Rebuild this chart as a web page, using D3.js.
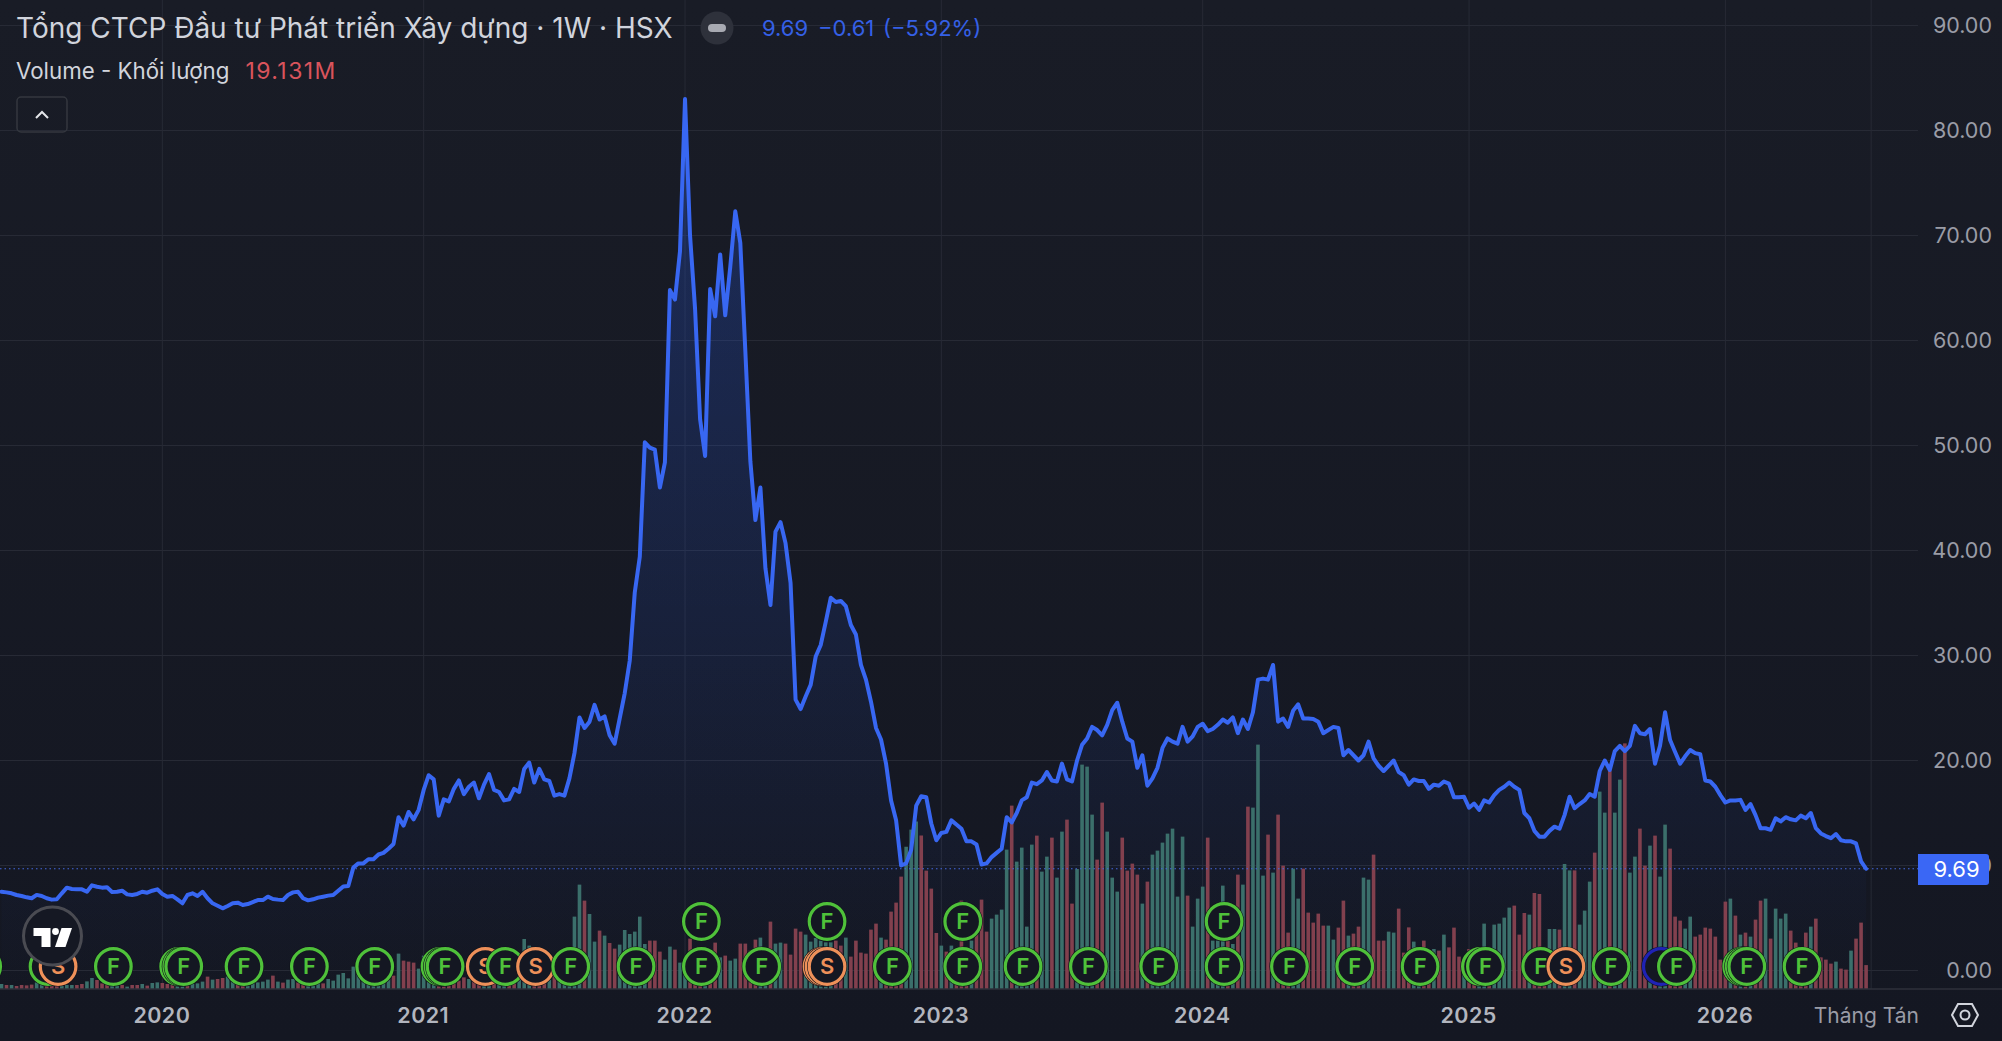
<html>
<head>
<meta charset="utf-8">
<script src="https://d3js.org/d3.v7.min.js"></script>
<style>
html,body{margin:0;padding:0;background:#151823;overflow:hidden;}
svg{display:block;font-family:Inter,"Noto Sans",sans-serif;}
</style>
</head>
<body></body>
<script>
const width = 2002;
const height = 1041;

// weekly closes, 10 per row
const closes = [
  7.5,7.44,7.35,7.19,7.1,6.97,6.88,7.2,7.1,6.88,
  6.75,6.78,7.35,7.89,7.76,7.73,7.73,7.5,8.11,7.98,
  7.89,7.92,7.48,7.5,7.6,7.25,7.19,7.29,7.5,7.41,
  7.6,7.73,7.29,7.03,7.1,6.78,6.4,7.19,7.35,7.1,
  7.5,6.88,6.4,6.17,5.92,6.14,6.4,6.46,6.24,6.33,
  6.52,6.71,6.71,7.03,6.81,6.75,6.71,7.19,7.44,7.5,
  6.88,6.68,6.78,6.94,7.03,7.13,7.19,7.6,8,8.05,
  9.8,10.2,10.2,10.6,10.6,11.05,11.2,11.6,12.05,14.6,
  13.8,15.1,14.4,15.3,17.2,18.6,18.2,14.75,16.3,16.1,
  17.3,18.1,16.8,17.5,17.9,16.4,17.7,18.7,17.2,17,
  16.2,16.3,17.3,17,19.2,19.8,17.9,19.2,18.2,18.05,
  16.65,16.8,16.65,18.3,20.7,24.1,23.1,23.7,25.3,23.9,
  24.2,22.4,21.6,24,26.4,29.5,36,39.4,50.3,49.8,
  49.6,46,48.4,64.8,63.9,68.5,83,70,63,52.5,
  49,64.9,62.3,68.2,62.4,67,72.3,69.3,59,48.5,
  42.9,46,38.3,34.8,41.8,42.7,40.7,36.9,25.8,24.9,
  26.1,27.2,29.9,31,33.2,35.5,35.1,35.2,34.7,32.9,
  32,29.1,27.7,25.6,23.1,22,19.7,16.2,14.3,10,
  10.2,11.5,15.7,16.6,16.5,14,12.4,13.1,13.2,14.3,
  13.9,13.5,12.3,12.3,12,10.1,10.2,10.8,11.2,11.6,
  14.6,14.1,15,16.2,16.5,17.9,17.75,18.1,18.9,18.1,
  18,19.7,18.2,18,20,21.5,22.1,23.2,22.9,22.4,
  23.4,24.8,25.5,23.7,22.1,21.8,19.3,20.5,17.6,18.3,
  19.3,21.2,22.1,21.8,21.6,23.2,21.8,22.3,23.2,23.5,
  22.8,23,23.4,23.9,23.6,24.1,22.6,23.9,23,24.6,
  27.7,27.8,27.7,29.1,23.7,24,23.2,24.75,25.35,24,
  24,23.95,23.7,22.6,22.9,23.2,23.1,20.5,21,20.5,
  20,20.5,21.8,20.2,19.5,19,19.5,20,18.9,18.6,
  17.7,18.2,18.05,18.05,17.3,17.7,17.6,18,17.8,16.5,
  16.5,16.55,15.5,15.9,15.3,16.2,16,16.7,17.2,17.5,
  17.9,17.5,17.2,15,14.5,13.3,12.75,12.75,13.3,13.7,
  13.5,14.8,16.55,15.45,15.85,16.2,16.8,16.55,19,20,
  19.1,20.9,21.4,20.9,21.4,23.3,22.6,22.5,23,19.7,
  21.4,24.6,21.95,20.8,19.7,20.4,21,20.7,20.6,18.1,
  18,17.5,16.7,16,16.2,16.2,16.25,15.3,15.85,14.8,
  13.55,13.55,13.4,14.5,14.2,14.6,14.4,14.3,14.75,14.5,
  15,13.55,13.05,12.8,12.6,13,12.4,12.3,12.3,12.1,
  10.4,9.69
];

// weekly volume in millions
const volumes = [
  4,3.2,3.2,2.4,3.2,2.9,3.5,5.3,5.3,2.7,
  2.7,2.7,2.4,3.2,3.2,3.2,4,6.1,8.8,7.2,
  4.5,4,3.2,2.7,3.2,1.9,3.2,3.2,4,2.7,
  4.8,5.3,4.8,4,3.2,4,4.5,4,4,4.5,
  5.9,9.9,7.5,8,8.8,9.9,8,4.5,4,4.5,
  5.3,5.3,5.9,7.5,10.7,5.9,5.1,7.5,8,5.3,
  4,4.5,5.3,6.1,4.5,8,6.7,11.5,12.8,8.5,
  17.9,21,12,9.3,12,14.7,13,18.7,10.7,28.3,
  22.7,21.9,21.1,16.3,26.7,25.3,20,12,13.3,11.5,
  8,6.7,9.3,8,9.9,9.3,10.7,9.3,10.7,12,
  10.7,9.3,8,20,40,34.7,22.7,20,18,22,
  20,26,24,20,57.9,83.5,70.7,60,37.9,46.7,
  42.7,36.8,32.3,35.5,47.2,44,45.9,57.9,36,38.7,
  38.7,29.9,23.5,33.9,31.5,21.1,17.3,40.3,30.7,25.3,
  25.3,30.7,37.1,25.3,26.7,22.7,24.3,36.3,36.3,30.7,
  39.5,41.1,30.7,53.9,36.3,37.1,36.3,27.5,48.3,45.9,
  43.5,37.9,40.8,38.7,37.3,37.3,38.7,34.7,41.1,25.9,
  38.7,29.1,28.3,47.5,52.3,41.1,39.5,61.9,69.1,89.9,
  113.8,127.5,134,122.8,94.7,80.3,44.8,34.7,29.9,34.7,
  28,70.7,33.3,38.7,44,71.5,45.9,56.3,59.5,63.5,
  111.5,146.7,101.9,113.1,49.9,115.5,122.7,93.9,105.9,121.1,
  89.1,125.9,135.5,68.3,96,179.5,177.9,139.5,103.5,149.1,
  125.9,89.1,77.9,121.1,94.7,100.3,91.5,68.3,85.9,107.5,
  110.7,117.1,124.3,128.3,73.9,121.9,74.7,49.9,72.3,81.9,
  121.1,38.7,38.7,82.7,38.7,36,91.5,83.5,145.9,145.1,
  195.5,90.7,123.5,93.1,139.5,98.7,45.1,96.3,72.3,96.3,
  61.1,53.1,60.3,50.7,50.7,39.5,49.1,70.7,42.7,44.3,
  49.9,89.1,87.5,107.5,38.7,38.7,45.9,45.1,64.3,29.1,
  49.3,37.9,28,38.7,28,32,30.7,43.5,33.3,49.1,
  25.9,17.3,32,30.7,28,52.3,22.7,51.5,52.3,57.1,
  65.1,66.7,43.5,60.8,59.5,76.8,76,33.3,48,48,
  47.5,100,94.9,94.9,51.5,62.7,85.9,109.1,157.9,141.1,
  174.7,141.1,167.5,196.5,93.1,105.9,128.3,98.7,114.7,122.7,
  89.9,131.5,112.3,57.9,54.7,48.3,57.9,41.9,43.5,49.1,
  48.3,41.9,23.5,69.9,72.3,58.7,43.5,45.1,41.9,55.5,
  70.7,72.3,40.3,64.3,56.3,60.3,46.7,37.1,28,45.1,
  49.9,56.3,25.3,23.5,20.3,21.9,16.3,15.5,30.7,40.3,
  53.1,19.131
];

// 1 = up week, 0 = down week
const volumeUp = [
  1,0,1,0,0,0,0,1,1,0,
  0,0,1,1,1,0,0,1,1,0,
  0,0,1,1,0,1,0,0,1,0,
  1,1,0,0,0,1,1,0,1,1,
  1,0,1,0,0,1,1,0,0,1,
  1,1,1,1,0,1,0,1,1,0,
  0,1,1,1,0,1,1,1,1,1,
  1,1,1,1,1,1,1,1,0,1,
  0,0,0,1,1,1,1,0,0,0,
  0,0,0,1,0,0,1,1,0,1,
  1,0,0,1,1,1,0,0,0,1,
  0,1,1,1,1,1,0,1,1,0,
  1,0,0,1,1,1,1,1,1,0,
  0,0,1,1,0,1,1,0,0,0,
  1,0,0,1,0,1,1,0,0,0,
  0,1,1,0,1,1,0,0,0,0,
  1,1,1,1,1,1,0,0,1,0,
  0,0,0,0,0,1,0,0,0,0,
  1,1,1,0,0,0,0,1,0,1,
  0,0,0,1,0,0,0,1,1,1,
  1,0,1,1,1,1,0,1,1,0,
  1,1,0,0,1,1,1,1,0,0,
  1,1,1,0,0,0,0,1,0,1,
  1,1,1,1,1,1,0,1,1,1,
  0,1,1,1,0,1,0,1,0,1,
  1,1,0,1,0,0,0,1,1,0,
  0,0,0,0,1,1,0,0,1,0,
  0,1,1,0,0,0,1,1,0,0,
  0,1,1,0,0,1,0,1,0,0,
  0,1,0,0,1,1,0,1,1,1,
  1,0,0,0,1,0,0,0,1,1,
  0,1,1,0,1,1,1,0,1,1,
  0,1,1,0,1,1,0,0,1,0,
  1,1,0,0,0,1,1,0,0,0,
  0,0,0,0,1,0,1,0,1,0,
  0,1,0,1,1,1,0,0,0,0,
  1,0,0,0,0,1,0,0,1,0,
  0,0
];

const priceTicks = [0,10,20,30,40,50,60,70,80,90];
const yearLabels = ['2020','2021','2022','2023','2024','2025','2026'];
const yearWeeks = [32,84,136,187,239,292,343];
const lastGridWeek = 372;

// earnings / split / dividend flags: week, row
const eventWeeks = [-4,9,11,22,35,35.6,36,48,61,74,87,87.6,88,96,100,106,113,126,139,139,151,163,163.4,164,164,177,191,191,203,216,230,243,243,256,269,282,294,295,306,311,320,330,333,346,346.5,347,358];
const eventTypes = ['F','F','S','F','F','F','F','F','F','F','F','F','F','S','F','S','F','F','F','F','F','S','S','S','F','F','F','F','F','F','F','F','F','F','F','F','F','F','F','S','F','D','F','F','F','F','F'];
const eventRows = [0,0,0,0,0,0,0,0,0,0,0,0,0,0,0,0,0,0,0,1,0,0,0,0,1,0,0,1,0,0,0,0,1,0,0,0,0,0,0,0,0,0,0,0,0,0,0];

const plotRight = 1918;
const baseY = 989;

const x = d3.scaleLinear().domain([0, closes.length-1]).range([1.5, 1866.1]);
const y = d3.scaleLinear().domain([0,90]).range([970.5,25.5]);
const yVol = d3.scaleLinear().domain([0,200]).range([baseY,baseY-250]);

const svg = d3.select('body').append('svg')
    .attr('width',width)
    .attr('height',height);

const defs = svg.append('defs');
const bg = defs.append('linearGradient').attr('id','bg')
    .attr('x1',0).attr('y1',0).attr('x2',0).attr('y2',1);
bg.append('stop').attr('offset','0%').attr('stop-color','#191c26');
bg.append('stop').attr('offset','100%').attr('stop-color','#141722');

const fillGrad = defs.append('linearGradient').attr('id','fillGrad')
    .attr('gradientUnits','userSpaceOnUse')
    .attr('x1',0).attr('y1',y(83)).attr('x2',0).attr('y2',baseY);
fillGrad.append('stop').attr('offset','0%').attr('stop-color','#2962ff').attr('stop-opacity',0.26);
fillGrad.append('stop').attr('offset','100%').attr('stop-color','#2962ff').attr('stop-opacity',0);

svg.append('rect').attr('width',width).attr('height',height).attr('fill','url(#bg)');

// grid
svg.append('g').selectAll('line')
    .data(priceTicks)
    .enter()
  .append('line')
    .attr('x1',0).attr('x2',plotRight)
    .attr('y1',d=>y(d)).attr('y2',d=>y(d))
    .attr('stroke','#272a35').attr('stroke-width',1);

svg.append('g').selectAll('line')
    .data(yearWeeks.concat([lastGridWeek]))
    .enter()
  .append('line')
    .attr('x1',d=>x(d)).attr('x2',d=>x(d))
    .attr('y1',0).attr('y2',baseY)
    .attr('stroke','#272a35').attr('stroke-width',1);

// area under the line
const area = d3.area()
    .x((d,i)=>x(i))
    .y0(baseY)
    .y1(d=>y(d));
svg.append('path').datum(closes).attr('d',area).attr('fill','url(#fillGrad)');

// volume
svg.append('g').selectAll('rect')
    .data(volumes)
    .enter()
  .append('rect')
    .attr('x',(d,i)=>x(i)-1.8)
    .attr('y',d=>yVol(d))
    .attr('width',3.6)
    .attr('height',d=>baseY-yVol(d))
    .attr('fill',(d,i)=>volumeUp[i] ? '#3b6f6b' : '#82404e');

// last price line
const lastPrice = closes[closes.length-1];
svg.append('line')
    .attr('x1',0).attr('x2',plotRight)
    .attr('y1',y(lastPrice)).attr('y2',y(lastPrice))
    .attr('stroke','#4468e0').attr('stroke-width',1.2)
    .attr('stroke-dasharray','1.5 3');

// price line
const line = d3.line()
    .x((d,i)=>x(i))
    .y(d=>y(d));
svg.append('path').datum(closes)
    .attr('d',line)
    .attr('fill','none')
    .attr('stroke','#3867f2')
    .attr('stroke-width',4)
    .attr('stroke-linejoin','round')
    .attr('stroke-linecap','round');

// event flags
const flagColor = {F:'#4fc13a',S:'#ee9059',D:'#1f22b5'};
const rowY = [966.5,921.5];
const events = eventWeeks.map((w,i)=>({week:w,type:eventTypes[i],row:eventRows[i]}));
const flags = svg.append('g').selectAll('g')
    .data(events)
    .enter()
  .append('g')
    .attr('transform',d=>`translate(${x(d.week)+1.3},${rowY[d.row]})`);
flags.append('circle')
    .attr('r',20)
    .attr('fill','#10131b');
flags.append('circle')
    .attr('r',17.8)
    .attr('fill','#141722')
    .attr('stroke',d=>flagColor[d.type])
    .attr('stroke-width',3.2);
flags.append('text')
    .attr('text-anchor','middle')
    .attr('dy','0.36em')
    .attr('font-size',22)
    .attr('font-weight',600)
    .attr('fill',d=>flagColor[d.type])
    .text(d=>d.type==='D' ? '' : d.type);

// price axis
const yAxis = d3.axisRight(y).tickValues(priceTicks).tickSize(0).tickPadding(0)
    .tickFormat(d3.format('.2f'));
const yG = svg.append('g').attr('transform','translate(1992,0)').call(yAxis);
yG.select('.domain').remove();
yG.selectAll('text')
    .attr('text-anchor','end')
    .attr('font-size',21.5)
    .attr('font-family','Inter')
    .attr('fill','#9a9ca6');

// time axis
svg.append('line')
    .attr('x1',0).attr('x2',width)
    .attr('y1',baseY).attr('y2',baseY)
    .attr('stroke','#2e313b').attr('stroke-width',1.5);

const xAxis = d3.axisBottom(x).tickValues(yearWeeks).tickSize(0).tickPadding(0)
    .tickFormat((d,i)=>yearLabels[i]);
const xG = svg.append('g').attr('transform',`translate(-1,${baseY})`).call(xAxis);
xG.select('.domain').remove();
xG.selectAll('text')
    .attr('y',26.5)
    .attr('dy','0.36em')
    .attr('font-size',21.5)
    .attr('font-weight',600)
    .attr('letter-spacing',0.4)
    .attr('font-family','Inter')
    .attr('fill','#b2b5be');

svg.append('text')
    .attr('x',1919).attr('y',1015.5).attr('dy','0.36em')
    .attr('text-anchor','end')
    .attr('font-size',21)
    .attr('fill','#9a9ca6')
    .text('Tháng Tán');

// settings hexagon
const gear = svg.append('g').attr('transform','translate(1965,1015)');
gear.append('path')
    .attr('d','M-13,0 L-7,-11 L7,-11 L13,0 L7,11 L-7,11 Z')
    .attr('fill','none').attr('stroke','#d1d4dc').attr('stroke-width',2);
gear.append('circle').attr('r',4.5)
    .attr('fill','none').attr('stroke','#d1d4dc').attr('stroke-width',2);

// last price label
svg.append('path')
    .attr('d',`M1918,854 H1986 a3,3 0 0 1 3,3 V882 a3,3 0 0 1 -3,3 H1918 Z`)
    .attr('fill','#3a67f5');
svg.append('text')
    .attr('x',1956.5).attr('y',869.5).attr('dy','0.36em')
    .attr('text-anchor','middle')
    .attr('font-size',22)
    .attr('fill','#ffffff')
    .text(lastPrice.toFixed(2));

// header
svg.append('text')
    .attr('x',16).attr('y',28).attr('dy','0.36em')
    .attr('font-size',28)
    .attr('fill','#d1d4dc')
    .text('Tổng CTCP Đầu tư Phát triển Xây dựng · 1W · HSX');

svg.append('circle').attr('cx',717).attr('cy',28).attr('r',16.5).attr('fill','#2e313b');
svg.append('rect').attr('x',708).attr('y',24).attr('width',18).attr('height',8).attr('rx',4).attr('fill','#a8aab2');

const quote = [['9.69',762],['−0.61',818],['(−5.92%)',883]];
svg.append('g').selectAll('text')
    .data(quote)
    .enter()
  .append('text')
    .attr('x',d=>d[1]).attr('y',28).attr('dy','0.36em')
    .attr('font-size',22)
    .attr('fill','#3560e6')
    .text(d=>d[0]);

svg.append('text')
    .attr('x',16).attr('y',71).attr('dy','0.36em')
    .attr('font-size',22.3)
    .attr('fill','#d1d4dc')
    .text('Volume - Khối lượng');
svg.append('text')
    .attr('x',245.5).attr('y',71).attr('dy','0.36em')
    .attr('font-size',23)
    .attr('letter-spacing',1.4)
    .attr('fill','#d9545c')
    .text('19.131M');

// collapse button
svg.append('rect')
    .attr('x',17).attr('y',97).attr('width',50).attr('height',35).attr('rx',4)
    .attr('fill','none').attr('stroke','#34373f').attr('stroke-width',1.5);
svg.append('path')
    .attr('d','M36,118 L42,112 L48,118')
    .attr('fill','none').attr('stroke','#e4e6ea').attr('stroke-width',2);

// logo
const logo = svg.append('g').attr('transform','translate(52.5,936)');
logo.append('circle').attr('r',29).attr('fill','#151823').attr('stroke','#4a4b52').attr('stroke-width',3);
logo.append('path').attr('d','M-19,-8 H-2 V11 H-11 V0 H-19 Z').attr('fill','#ffffff');
logo.append('circle').attr('cx',3).attr('cy',-4.5).attr('r',3.4).attr('fill','#ffffff');
logo.append('path').attr('d','M9,-8 H19.5 L13,11 H2.5 Z').attr('fill','#ffffff');
</script>
</html>
